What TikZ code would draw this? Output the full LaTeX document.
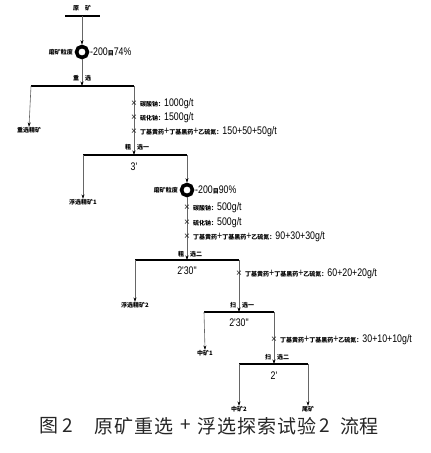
\documentclass[tikz,border=0pt]{standalone}
\usepackage{fontspec}
\setmainfont{Liberation Sans}
\newfontfamily\cjk{Noto Sans CJK SC}
\newfontfamily\numfont[FakeStretch=0.8]{Liberation Sans}
\usetikzlibrary{arrows.meta}
\newcommand\cjs[1]{{\cjk\fontsize{6}{6}\selectfont\bfseries #1}}
\newcommand\nums[1]{{\numfont\fontsize{11}{12}\selectfont #1}}
\begin{document}
\begin{tikzpicture}[x=1pt,y=-1pt,
  flow/.style={draw=black!60, line width=0.6pt},
  arr/.style={flow,-{Stealth[length=4.5pt,width=3pt,black]}},
  barline/.style={line width=2.6pt, black, line cap=butt},
  ring/.style={circle, draw=black, line width=3.6pt, minimum size=11pt, inner sep=0pt},
  lab/.style={inner sep=0pt, font=\cjk\fontsize{6}{6}\selectfont\bfseries},
  reag/.style={anchor=west, inner sep=0pt},
  cross/.style={inner sep=0pt, font=\fontsize{10}{10}\selectfont, text=black!85},
  tim/.style={inner sep=0pt, font=\numfont\fontsize{11}{12}\selectfont},
  capt/.style={inner sep=0pt, font=\cjk\fontsize{19}{20}\selectfont, text=black!85},
]
\useasboundingbox[fill=white] (0,0) rectangle (431,453);

% feed
\node[lab] (feed) at (82,8) {原\hspace{6pt}矿};
\coordinate (f0L) at (65,16); \coordinate (f0R) at (100,16); \coordinate (f0M) at (82,16);
\draw[barline] (f0L) -- (f0R);

% grinding 1
\node[ring] (g1) at (82,52) {};
\node[lab, anchor=east] (g1l) at (73,52) {磨矿粒度};
\node[reag] (g1r) at (90,52) {\nums{-200}\cjs{目}\nums{74\%}};
\draw[arr] (f0M) -- (g1.north);

% gravity separation
\coordinate (b1L) at (31,86); \coordinate (b1R) at (134,86); \coordinate (b1M) at (82,86);
\draw[barline] (b1L) -- (b1R);
\draw[arr] (g1.south) -- (b1M);
\node[lab] (b1a) at (76,78) {重};
\node[lab] (b1b) at (88,78) {选};
\node[lab] (c1) at (29,130) {重选精矿};
\draw[arr] (b1L) -- (c1.north);

% rougher 1
\coordinate (b2L) at (83,155); \coordinate (b2R) at (187,155); \coordinate (b2M) at (134,155);
\draw[barline] (b2L) -- (b2R);
\draw[arr] (b1R) -- (b2M);
\node[cross] (x11) at (134,104) {×};
\node[cross] (x12) at (134,118) {×};
\node[cross] (x13) at (134,132) {×};
\node[reag] (r11) at (140,104) {\cjs{碳酸钠：}\nums{1000g/t}};
\node[reag] (r12) at (140,118) {\cjs{硫化钠：}\nums{1500g/t}};
\node[reag] (r13) at (140,132) {\cjs{丁基黄药}\nums{+}\cjs{丁基黑药}\nums{+}\cjs{乙硫氮：}\nums{150+50+50g/t}};
\node[lab] (b2a) at (128,147) {粗};
\node[lab] (b2b) at (143,147) {选一};
\node[tim] (t2) at (134,167) {3'};
\node[lab] (c2) at (83,202) {浮选精矿1};
\draw[arr] (b2L) -- (c2.north);

% grinding 2
\node[ring] (g2) at (187,190) {};
\node[lab, anchor=east] (g2l) at (178,190) {磨矿粒度};
\node[reag] (g2r) at (195,190) {\nums{-200}\cjs{目}\nums{90\%}};
\draw[arr] (b2R) -- (g2.north);

% rougher 2
\coordinate (b3L) at (135,260); \coordinate (b3R) at (239,260); \coordinate (b3M) at (187,260);
\draw[barline] (b3L) -- (b3R);
\draw[arr] (g2.south) -- (b3M);
\node[cross] (x21) at (187,208) {×};
\node[cross] (x22) at (187,223) {×};
\node[cross] (x23) at (187,237) {×};
\node[reag] (r21) at (193,208) {\cjs{碳酸钠：}\nums{500g/t}};
\node[reag] (r22) at (193,223) {\cjs{硫化钠：}\nums{500g/t}};
\node[reag] (r23) at (193,237) {\cjs{丁基黄药}\nums{+}\cjs{丁基黑药}\nums{+}\cjs{乙硫氮：}\nums{90+30+30g/t}};
\node[lab] (b3a) at (181,254) {粗};
\node[lab] (b3b) at (196,254) {选二};
\node[tim] (t3) at (187,271) {2'30"};
\node[lab] (c3) at (135,305) {浮选精矿2};
\draw[arr] (b3L) -- (c3.north);

% scavenger 1
\coordinate (b4L) at (204,312); \coordinate (b4R) at (274,312); \coordinate (b4M) at (239,312);
\draw[barline] (b4L) -- (b4R);
\draw[arr] (b3R) -- (b4M);
\node[cross] (x31) at (239,274) {×};
\node[reag] (r31) at (245,274) {\cjs{丁基黄药}\nums{+}\cjs{丁基黑药}\nums{+}\cjs{乙硫氮：}\nums{60+20+20g/t}};
\node[lab] (b4a) at (233,305) {扫};
\node[lab] (b4b) at (248,305) {选一};
\node[tim] (t4) at (239,323) {2'30"};
\node[lab] (c4) at (205,353) {中矿1};
\draw[arr] (b4L) -- (c4.north);

% scavenger 2
\coordinate (b5L) at (239,364); \coordinate (b5R) at (308,364); \coordinate (b5M) at (274,364);
\draw[barline] (b5L) -- (b5R);
\draw[arr] (b4R) -- (b5M);
\node[cross] (x41) at (274,340) {×};
\node[reag] (r41) at (280,340) {\cjs{丁基黄药}\nums{+}\cjs{丁基黑药}\nums{+}\cjs{乙硫氮：}\nums{30+10+10g/t}};
\node[lab] (b5a) at (268,357) {扫};
\node[lab] (b5b) at (283,357) {选二};
\node[tim] (t5) at (274,376) {2'};
\node[lab] (c5) at (239,409) {中矿2};
\node[lab] (c6) at (308,409) {尾矿};
\draw[arr] (b5L) -- (c5.north);
\draw[arr] (b5R) -- (c6.north);

% caption
\node[capt] (cap1) at (49,426) {图};
\node[capt] (cap2) at (67.5,426) {2};
\node[capt] (cap3) at (134,426) {原\hspace{1pt}矿\hspace{1pt}重\hspace{1pt}选};
\node[capt] (cap4) at (186,426) {+};
\node[capt] (cap5) at (257,426) {浮\hspace{1pt}选\hspace{1pt}探\hspace{1pt}索\hspace{1pt}试\hspace{1pt}验};
\node[capt] (cap6) at (325,426) {2};
\node[capt] (cap7) at (359.5,426) {流\hspace{1pt}程};
\end{tikzpicture}
\end{document}
